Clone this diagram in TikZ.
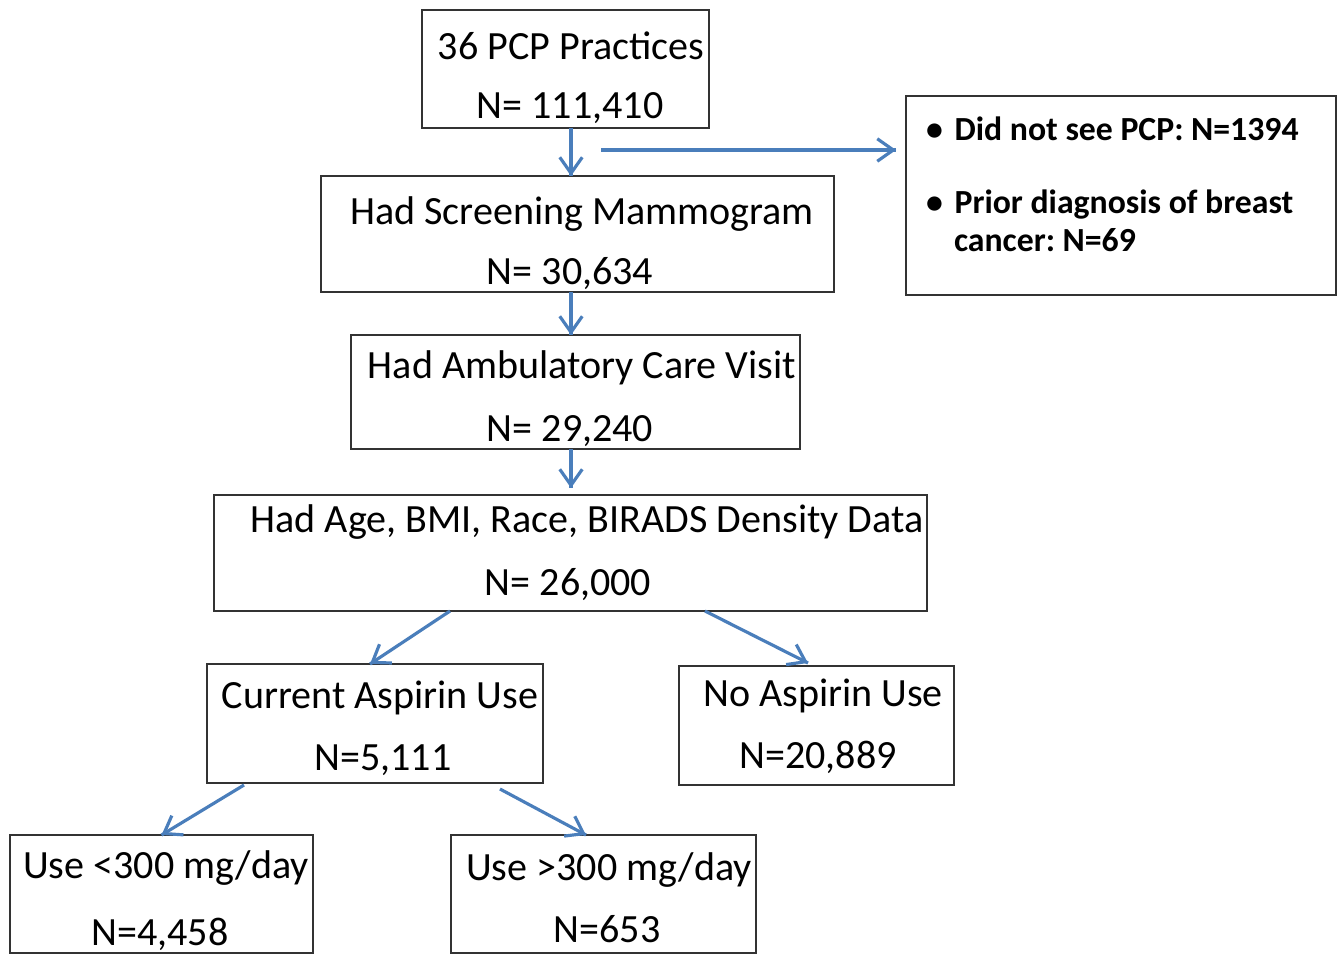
\documentclass[tikz,border=0pt]{standalone}
\usepackage{fontspec}
\setmainfont{Carlito}
\usetikzlibrary{arrows.meta,fit,decorations.markings}
\definecolor{flowblue}{RGB}{74,126,187}

\begin{document}
\frenchspacing
\begin{tikzpicture}[
  x=0.02cm, y=-0.02cm,
  every node/.style = {inner sep=0pt, outer sep=0pt},
  box/.style = {draw=black!80, line width=1.1pt},
  txt/.style = {anchor=base, font=\fontsize{22.8}{27}\selectfont},
  note/.style = {anchor=base west, font=\fontsize{19.2}{23}\selectfont\bfseries}
  ]
  \useasboundingbox (0,0) rectangle (1344,954);

  \node[box, fit={(422,10) (709,128)}] (pcp) {};
  \node[box, fit={(906,96) (1336,295)}] (excl) {};
  \node[box, fit={(321,176) (834,292)}] (mammo) {};
  \node[box, fit={(351,335) (800,449)}] (visit) {};
  \node[box, fit={(214,495) (927,611)}] (data) {};
  \node[box, fit={(207,664) (543,783)}] (asp) {};
  \node[box, fit={(679,666) (954,785)}] (noasp) {};
  \node[box, fit={(10,835) (313,953)}] (low) {};
  \node[box, fit={(451,835) (756,953)}] (high) {};

  \node[txt] (pcpA) at (571,59) {36 PCP Practices};
  \node[txt] (pcpB) at (570,118) {N= 111,410};
  \node[txt] (mammoA) at (582,224) {Had Screening Mammogram};
  \node[txt] (mammoB) at (570,284) {N= 30,634};
  \node[txt] (visitA) at (582,378) {Had Ambulatory Care Visit};
  \node[txt] (visitB) at (570,441) {N= 29,240};
  \node[txt] (dataA) at (587,532) {Had Age, BMI, Race, BIRADS Density Data};
  \node[txt] (dataB) at (568,595) {N= 26,000};
  \node[txt] (aspA) at (380,708) {Current Aspirin Use};
  \node[txt] (aspB) at (383,770) {N=5,111};
  \node[txt] (noaspA) at (823,706) {No Aspirin Use};
  \node[txt] (noaspB) at (818,768) {N=20,889};
  \node[txt] (lowA) at (166,878) {Use <300 mg/day};
  \node[txt] (lowB) at (160,945) {N=4,458};
  \node[txt] (highA) at (609,880) {Use >300 mg/day};
  \node[txt] (highB) at (607,942) {N=653};

  \node[note] (exclA) at (926,140) {\textbullet\hspace{0.35em}Did not see PCP: N=1394};
  \node[note] (exclB) at (926,213) {\textbullet\hspace{0.35em}Prior diagnosis of breast};
  \node[note] (exclC) at (954,251) {cancer: N=69};

  \coordinate (spine) at (571,0);
  \coordinate (branch) at (601,150);

  \tikzset{Flow/.style = {draw=flowblue, line width=1.8pt,
    decoration={markings,mark=at position 1 with
    {\arrow[flowblue]{Straight Barb[length=0.32cm,width=0.45cm,line width=1.8pt]}}},
    postaction={decorate}}}

  \draw[Flow] (pcp.south -| spine) -- (mammo.north -| spine);
  \draw[Flow] (branch) -- ([xshift=-0.2cm]excl.west |- branch);
  \draw[Flow] (mammo.south -| spine) -- (visit.north -| spine);
  \draw[Flow] (visit.south -| spine) -- ([yshift=0.14cm]data.north -| spine);
  \draw[Flow] ([xshift=-2.41cm]data.south) -- ([xshift=-0.1cm]asp.north);
  \draw[Flow] ([xshift=2.69cm]data.south) -- ([xshift=-0.17cm,yshift=0.06cm]noasp.north);
  \draw[Flow] ([xshift=-2.62cm,yshift=-0.04cm]asp.south) -- (low.north);
  \draw[Flow] ([xshift=2.5cm,yshift=-0.12cm]asp.south) -- ([xshift=-0.35cm]high.north);

\end{tikzpicture}
\end{document}
